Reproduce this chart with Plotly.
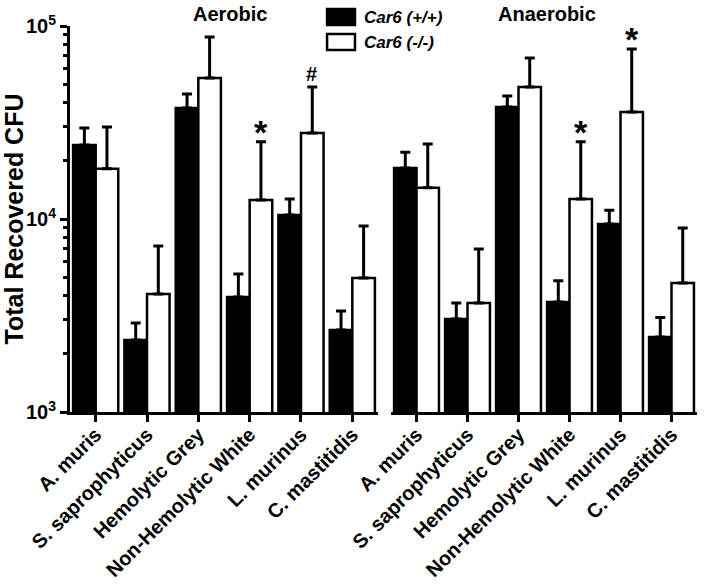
import math
import plotly.graph_objects as go

categories = ["A. muris", "S. saprophyticus", "Hemolytic Grey",
              "Non-Hemolytic White", "L. murinus", "C. mastitidis"]

# Aerobic
aer_wt = [24200, 2360, 37600, 3940, 10500, 2660]
aer_wt_top = [29600, 2890, 44400, 5190, 12700, 3340]
aer_ko = [18200, 4090, 53800, 12540, 27900, 4940]
aer_ko_top = [30000, 7250, 87700, 25100, 48300, 9200]

# Anaerobic
ana_wt = [18400, 3030, 38000, 3710, 9420, 2450]
ana_wt_top = [22200, 3670, 43400, 4780, 11100, 3090]
ana_ko = [14500, 3670, 48300, 12700, 35800, 4660]
ana_ko_top = [24500, 7000, 68200, 25100, 75900, 8980]

# significance marks (panel, category, symbol)
marks = [("x", "Non-Hemolytic White", "*"), ("x", "L. murinus", "#"),
         ("x2", "Non-Hemolytic White", "*"), ("x2", "L. murinus", "*")]

series_names = ["Car6 (+/+)", "Car6 (-/-)"]
panel_titles = ["Aerobic", "Anaerobic"]

FONT = "Liberation Sans, Arial, sans-serif"

def plus(vals, tops):
    return [t - v for v, t in zip(vals, tops)]

fig = go.Figure()
for xa, wt, wtt, ko, kot in [("x", aer_wt, aer_wt_top, aer_ko, aer_ko_top),
                             ("x2", ana_wt, ana_wt_top, ana_ko, ana_ko_top)]:
    fig.add_trace(go.Bar(
        x=categories, y=wt, xaxis=xa, yaxis="y", name=series_names[0],
        marker=dict(color="black", line=dict(color="black", width=2.5)),
        error_y=dict(type="data", symmetric=False, array=plus(wt, wtt),
                     arrayminus=[0] * len(wt), color="black", thickness=3, width=5),
        showlegend=False, offsetgroup="a"))
    fig.add_trace(go.Bar(
        x=categories, y=ko, xaxis=xa, yaxis="y", name=series_names[1],
        marker=dict(color="white", line=dict(color="black", width=2.5)),
        error_y=dict(type="data", symmetric=False, array=plus(ko, kot),
                     arrayminus=[0] * len(ko), color="black", thickness=3, width=5),
        showlegend=False, offsetgroup="b"))

for xa, cat, sym in marks:
    tops = ana_ko_top if xa == "x2" else aer_ko_top
    top = tops[categories.index(cat)]
    fig.add_annotation(x=cat, y=math.log10(top), xref=xa, yref="y",
                       text=sym, showarrow=False, xshift=11,
                       yanchor="bottom", yshift=-11 if sym == "*" else 0,
                       font=dict(family=FONT, size=34 if sym == "*" else 20,
                                 color="black", weight="bold"))

xcommon = dict(type="category", showline=True, linewidth=3, linecolor="black",
               ticks="outside", ticklen=7, tickwidth=3, tickcolor="black",
               tickangle=-45, showgrid=False, zeroline=False, automargin=False,
               ticklabelstandoff=-7,
               tickfont=dict(family=FONT, size=20, color="black", weight="bold"),
               anchor="y")

fig.update_layout(
    width=704, height=585,
    margin=dict(l=70, r=7, t=26, b=173),
    paper_bgcolor="white", plot_bgcolor="white",
    barmode="group", bargap=0.12, bargroupgap=0,
    showlegend=False,
    xaxis=dict(domain=[0, 0.4912], **xcommon),
    xaxis2=dict(domain=[0.512, 1], **xcommon),
    yaxis=dict(type="log", range=[3, 5], showline=True, linewidth=3,
               linecolor="black", ticks="outside", ticklen=7, tickwidth=3,
               tickcolor="black", showgrid=False, zeroline=False, automargin=False,
               tickvals=[1e3, 1e4, 1e5],
               ticktext=["10<sup>3</sup>", "10<sup>4</sup>", "10<sup>5</sup>"],
               minor=dict(tickvals=[m * d for d in (1e3, 1e4) for m in range(2, 10)],
                          ticks="outside", ticklen=4, tickwidth=2.5, tickcolor="black"),
               tickfont=dict(family=FONT, size=20, color="black", weight="bold"),
               title=dict(text="Total Recovered CFU", standoff=6,
                          font=dict(family=FONT, size=25, color="black", weight="bold")),
               anchor="x"),
)

# panel titles
for xp, t in zip([0.255, 0.761], panel_titles):
    fig.add_annotation(x=xp, y=1.031, xref="paper", yref="paper", text=t,
                       showarrow=False, xanchor="center", yanchor="middle",
                       font=dict(family=FONT, size=20, color="black", weight="bold"))

# legend (custom)
for i, (nm, col) in enumerate(zip(series_names, ["black", "white"])):
    y1 = 1.044 - i * 0.0648
    y0 = y1 - 0.0415
    fig.add_shape(type="rect", xref="paper", yref="paper",
                  x0=0.41, x1=0.4545, y0=y0, y1=y1,
                  fillcolor=col, line=dict(color="black", width=2.5))
    fig.add_annotation(x=0.4665, y=(y0 + y1) / 2, xref="paper", yref="paper",
                       text=nm, showarrow=False, xanchor="left", yanchor="middle",
                       font=dict(family=FONT, size=17, color="black",
                                 weight="bold", style="italic"))

fig.write_html("out.html", config={"displayModeBar": False},
               post_script="document.body.style.margin='0';document.body.style.overflow='hidden';")
